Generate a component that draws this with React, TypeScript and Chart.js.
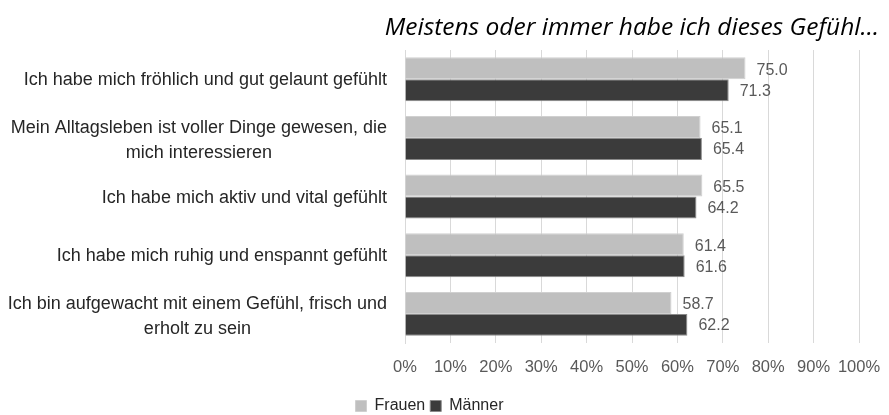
import React, { useEffect, useRef } from "react";
import { Chart, registerables } from "chart.js";

Chart.register(...registerables);

const categories: string[][] = [
  ["Ich habe mich fröhlich und gut gelaunt gefühlt"],
  ["Mein Alltagsleben ist voller Dinge gewesen, die", "mich interessieren"],
  ["Ich habe mich aktiv und vital gefühlt"],
  ["Ich habe mich ruhig und enspannt gefühlt"],
  ["Ich bin aufgewacht mit einem Gefühl, frisch und", "erholt zu sein"],
];
const frauen = [75.0, 65.1, 65.5, 61.4, 58.7];
const maenner = [71.3, 65.4, 64.2, 61.6, 62.2];
const seriesNames = ["Frauen", "Männer"];
const titleText = "Meistens oder immer habe ich dieses Gefühl…";

const FONT = '"Liberation Sans", Arial, sans-serif';

const labelsPlugin = {
  id: "customLabels",
  afterDraw(chart: any) {
    const ctx = chart.ctx;
    const y = chart.scales.y;
    const left = chart.chartArea.left;
    ctx.save();
    // category labels
    ctx.font = `18px ${FONT}`;
    ctx.fillStyle = "#262626";
    ctx.textBaseline = "middle";
    const lh = 25;
    categories.forEach((lines, i) => {
      const cy = y.getPixelForValue(i);
      const widths = lines.map((l) => ctx.measureText(l).width);
      const maxW = Math.max(...widths);
      const right = left - 18;
      const cx = right - maxW / 2;
      const startY = cy - ((lines.length - 1) * lh) / 2 + (lines.length > 1 ? 2.5 : 1);
      ctx.textAlign = "center";
      lines.forEach((l, j) => ctx.fillText(l, cx, startY + j * lh));
    });
    // value labels
    ctx.font = `16px ${FONT}`;
    ctx.fillStyle = "#595959";
    ctx.textAlign = "left";
    chart.data.datasets.forEach((ds: any, di: number) => {
      const meta = chart.getDatasetMeta(di);
      meta.data.forEach((bar: any, i: number) => {
        ctx.fillText(ds.data[i].toFixed(1), bar.x + 11, bar.y + (di === 0 ? 2 : 1));
      });
    });
    ctx.restore();
  },
};

export default function App() {
  const ref = useRef<HTMLCanvasElement>(null);
  useEffect(() => {
    document.body.style.margin = "0";
    const chart = new Chart(ref.current!, {
      type: "bar",
      data: {
        labels: categories.map((c) => c.join(" ")),
        datasets: [
          {
            label: seriesNames[0],
            data: frauen,
            backgroundColor: "#bfbfbf",
            borderColor: "#d0d0d0",
            borderWidth: 1,
            barPercentage: 1,
            categoryPercentage: 0.75,
          },
          {
            label: seriesNames[1],
            data: maenner,
            backgroundColor: "#3b3b3b",
            borderColor: "#8a8a8a",
            borderWidth: 1,
            barPercentage: 1,
            categoryPercentage: 0.75,
          },
        ],
      },
      options: {
        indexAxis: "y",
        animation: false,
        responsive: false,
        maintainAspectRatio: false,
        layout: { padding: { top: 50, right: 30, bottom: 0, left: 0 } },
        scales: {
          x: {
            min: 0,
            max: 100,
            ticks: {
              stepSize: 10,
              autoSkip: false,
              callback: (v: any) => v + "%",
              color: "#595959",
              font: { family: FONT, size: 16.5 },
              padding: 4,
              maxRotation: 0,
              minRotation: 0,
            },
            grid: { color: "#d9d9d9", drawTicks: true, tickLength: 10, tickColor: "rgba(0,0,0,0)" },
            border: { display: false },
            afterFit: (s: any) => {
              s.height += 12;
            },
          },
          y: {
            ticks: { display: false },
            grid: { display: false, drawTicks: false },
            border: { display: true, color: "#d9d9d9" },
            afterFit: (s: any) => {
              s.width = 405;
            },
          },
        },
        plugins: {
          legend: {
            position: "bottom",
            labels: {
              boxWidth: 11,
              boxHeight: 11,
              color: "#262626",
              font: { family: FONT, size: 16 },
              padding: 5,
            },
          },
          tooltip: { enabled: false },
          title: { display: false },
        },
      },
      plugins: [labelsPlugin],
    });
    return () => chart.destroy();
  }, []);
  return (
    <div style={{ position: "relative", width: 889, height: 415, background: "#fff", overflow: "hidden" }}>
      <div
        style={{
          position: "absolute",
          right: 10,
          top: 9,
          fontFamily: '"Open Sans", sans-serif',
          fontStyle: "italic",
          fontSize: 24.5,
          color: "#000",
          whiteSpace: "nowrap",
        }}
      >
        {titleText}
      </div>
      <canvas ref={ref} width={889} height={424} style={{ display: "block" }} />
    </div>
  );
}
